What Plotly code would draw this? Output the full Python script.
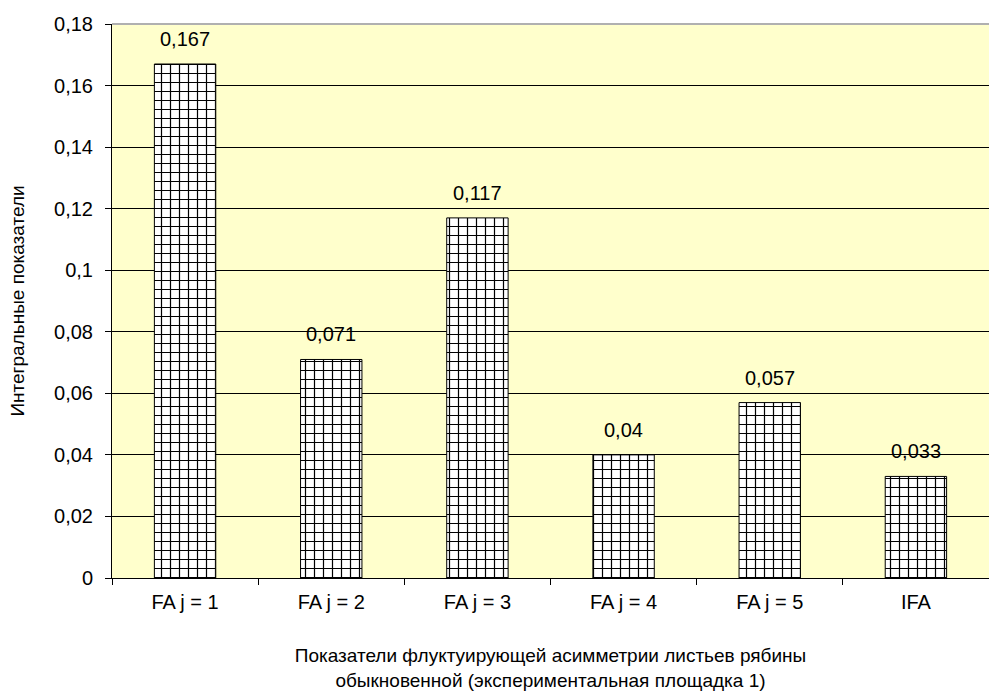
import plotly.graph_objects as go

categories = ["FA j = 1", "FA j = 2", "FA j = 3", "FA j = 4", "FA j = 5", "IFA"]
values = [0.167, 0.071, 0.117, 0.04, 0.057, 0.033]
ytick_vals = [0, 0.02, 0.04, 0.06, 0.08, 0.1, 0.12, 0.14, 0.16, 0.18]
ytick_text = ["0", "0,02", "0,04", "0,06", "0,08", "0,1", "0,12", "0,14", "0,16", "0,18"]
labels = [str(v).replace(".", ",") for v in values]

font = "Liberation Sans, Arial, sans-serif"
fs = 20

fig = go.Figure(go.Bar(
    x=categories, y=values,
    marker=dict(color="white", line=dict(color="black", width=1),
                pattern=dict(shape="+", fgcolor="black", bgcolor="white",
                             size=9, solidity=0.25, fillmode="replace")),
))

for c, v, t in zip(categories, values, labels):
    fig.add_annotation(x=c, y=v, text=t, showarrow=False, yanchor="bottom",
                       yshift=12, font=dict(family=font, size=fs, color="black"))

fig.update_layout(
    width=989, height=698,
    margin=dict(l=112, r=0, t=24, b=120, autoexpand=False),
    paper_bgcolor="white", plot_bgcolor="#FFFFCC",
    font=dict(family=font, size=fs, color="black"),
    bargap=0.58, showlegend=False,
    shapes=[dict(type="line", xref="paper", yref="paper", x0=0, x1=1, y0=1, y1=1,
                 line=dict(color="#B0B0B0", width=2))],
)
fig.update_xaxes(
    automargin=False,
    showline=True, linecolor="black", linewidth=1,
    ticks="outside", ticklen=6, tickcolor="black", tickson="boundaries",
    ticklabelstandoff=6,
    showgrid=False,
    title=dict(text="Показатели флуктуирующей асимметрии листьев рябины<br>обыкновенной (экспериментальная площадка 1)",
               font=dict(size=19), standoff=36),
    tickfont=dict(size=fs),
)
fig.update_yaxes(
    automargin=False,
    range=[0, 0.18], tickvals=ytick_vals, ticktext=ytick_text,
    showline=True, linecolor="black", linewidth=1,
    ticks="outside", ticklen=6, tickcolor="black",
    ticklabelstandoff=8,
    showgrid=True, gridcolor="black", gridwidth=1,
    zeroline=False,
    title=dict(text="Интегральные показатели", font=dict(size=19), standoff=24),
    tickfont=dict(size=fs),
)

fig.write_html("out.html", config={"displayModeBar": False},
               post_script="document.body.style.margin='0';document.body.style.overflow='hidden';")
